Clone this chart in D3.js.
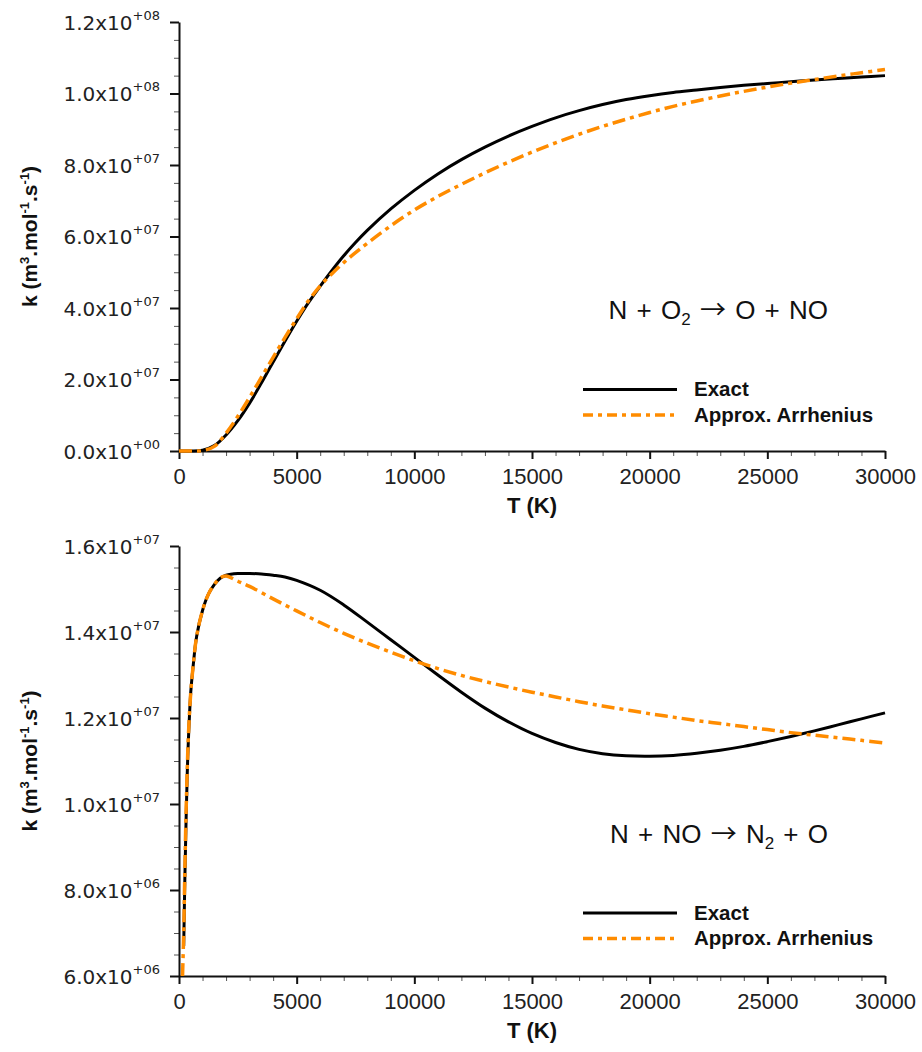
<!DOCTYPE html>
<html>
<head>
<meta charset="utf-8">
<script src="https://cdn.jsdelivr.net/npm/d3@7"></script>
<style>
  html, body { margin: 0; padding: 0; background: #fff; }
  svg { display: block; }
</style>
</head>
<body>
<svg id="chart" width="922" height="1052"></svg>
<script>
// ---------------- DATA ----------------
// Panel 1: N + O2 -> O + NO
const T_top = [0,500,1000,1500,2000,2500,3000,3500,4000,4500,5000,5500,6000,6500,7000,7500,8000,9000,10000,11000,12000,13000,14000,15000,16000,17000,18000,19000,20000,21000,22000,23000,24000,25000,26000,27000,28000,29000,30000];
const k_top_exact = [0,0,0.02e7,0.15e7,0.45e7,0.85e7,1.34e7,1.9e7,2.49e7,3.07e7,3.63e7,4.15e7,4.61e7,5.05e7,5.46e7,5.83e7,6.17e7,6.77e7,7.29e7,7.75e7,8.15e7,8.5e7,8.81e7,9.08e7,9.32e7,9.52e7,9.69e7,9.83e7,9.94e7,10.03e7,10.1e7,10.17e7,10.23e7,10.28e7,10.33e7,10.38e7,10.42e7,10.46e7,10.5e7];
const k_top_arrh  = [0,0,0.01e7,0.13e7,0.5e7,0.97e7,1.5e7,2.06e7,2.62e7,3.17e7,3.7e7,4.2e7,4.62e7,4.96e7,5.27e7,5.55e7,5.81e7,6.3e7,6.74e7,7.12e7,7.46e7,7.78e7,8.08e7,8.36e7,8.62e7,8.86e7,9.08e7,9.28e7,9.47e7,9.64e7,9.79e7,9.93e7,10.06e7,10.18e7,10.29e7,10.39e7,10.49e7,10.58e7,10.67e7];

// Panel 2: N + NO -> N2 + O
const T_bot_exact = [200,250,300,350,400,500,600,750,1000,1250,1500,1750,2000,2500,3000,3500,4000,4500,5000,6000,7000,8000,9000,10000,11000,12000,13000,14000,15000,16000,17000,18000,19000,20000,21000,22000,23000,24000,25000,26000,27000,28000,29000,30000];
const k_bot_exact = [6.7e6,8.3e6,9.6e6,10.7e6,11.5e6,12.6e6,13.2e6,13.9e6,14.5e6,14.88e6,15.1e6,15.25e6,15.32e6,15.36e6,15.36e6,15.35e6,15.32e6,15.28e6,15.2e6,14.97e6,14.63e6,14.23e6,13.82e6,13.41e6,13.0e6,12.6e6,12.23e6,11.91e6,11.64e6,11.43e6,11.27e6,11.17e6,11.12e6,11.11e6,11.13e6,11.18e6,11.25e6,11.34e6,11.45e6,11.57e6,11.7e6,11.84e6,11.98e6,12.12e6];
const T_bot_arrh = [150,200,250,300,350,400,500,600,750,1000,1250,1500,1750,2000,2500,3000,4000,5000,6000,7000,8000,9000,10000,11000,12000,13000,14000,15000,16000,17000,18000,19000,20000,21000,22000,23000,24000,25000,26000,27000,28000,29000,30000];
const k_bot_arrh = [6.0e6,7.0e6,8.5e6,9.8e6,10.8e6,11.6e6,12.6e6,13.2e6,13.9e6,14.5e6,14.88e6,15.1e6,15.26e6,15.3e6,15.18e6,15.06e6,14.77e6,14.49e6,14.22e6,13.97e6,13.74e6,13.53e6,13.33e6,13.15e6,12.99e6,12.85e6,12.72e6,12.6e6,12.49e6,12.38e6,12.28e6,12.19e6,12.1e6,12.02e6,11.94e6,11.87e6,11.8e6,11.73e6,11.66e6,11.6e6,11.54e6,11.48e6,11.42e6];

const xTicks = [0,5000,10000,15000,20000,25000,30000];
const yTicksTop = [0,2e7,4e7,6e7,8e7,10e7,12e7];
const yTicksBot = [6e6,8e6,10e6,12e6,14e6,16e6];
const legendLabels = ["Exact", "Approx. Arrhenius"];
const xTitle = "T (K)";

// ---------------- DRAW ----------------
const svg = d3.select("#chart");
const ORANGE = "#FF8C00";
const SANS = "'Liberation Sans', Arial, Helvetica, sans-serif";
const ARROW_FONT = "'Noto Sans CJK SC', 'DejaVu Sans', sans-serif";

function supLabel(v) {
  if (v === 0) return ["0.0x10", "+00"];
  const e = Math.floor(Math.log10(v) + 1e-9);
  const m = v / Math.pow(10, e);
  return [m.toFixed(1) + "x10", "+" + String(e).padStart(2, "0")];
}

function panel(cfg) {
  const x = d3.scaleLinear().domain([0, 30000]).range([179, 885]);
  const y = d3.scaleLinear().domain(cfg.yDomain).range([cfg.yBottom, cfg.yTop]);
  const g = svg.append("g");

  // minor ticks x
  const minorX = d3.range(0, 30001, 1000).filter(v => v % 5000 !== 0);
  g.append("g").attr("transform", `translate(0,${cfg.yBottom})`)
    .call(d3.axisBottom(x).tickValues(minorX).tickSize(5).tickFormat(""))
    .call(s => s.select(".domain").remove())
    .call(s => s.selectAll("line").attr("stroke", "#555").attr("stroke-width", 1));
  // minor ticks y
  const step = cfg.yStep / 4;
  const minorY = d3.range(cfg.yDomain[0], cfg.yDomain[1] + step / 2, step)
    .filter((v, i) => i % 4 !== 0);
  g.append("g").attr("transform", "translate(179,0)")
    .call(d3.axisLeft(y).tickValues(minorY).tickSize(5).tickFormat(""))
    .call(s => s.select(".domain").remove())
    .call(s => s.selectAll("line").attr("stroke", "#555").attr("stroke-width", 1));

  // major x axis
  const gx = g.append("g").attr("transform", `translate(0,${cfg.yBottom})`)
    .call(d3.axisBottom(x).tickValues(xTicks).tickSize(8).tickSizeOuter(0).tickPadding(9).tickFormat(d3.format("d")));
  gx.select(".domain").attr("stroke", "#111").attr("stroke-width", 2);
  gx.selectAll("line").attr("stroke", "#111").attr("stroke-width", 2);
  gx.selectAll("text").attr("font-family", SANS).attr("font-size", 22).attr("fill", "#222");

  // major y axis
  const gy = g.append("g").attr("transform", "translate(179,0)")
    .call(d3.axisLeft(y).tickValues(cfg.yTicks).tickSize(9).tickSizeOuter(0).tickPadding(10).tickFormat(""));
  gy.select(".domain").attr("stroke", "#111").attr("stroke-width", 2);
  gy.selectAll("line").attr("stroke", "#111").attr("stroke-width", 2);
  gy.selectAll(".tick text").each(function(d) {
    const t = d3.select(this);
    const [a, b] = supLabel(d);
    t.attr("font-family", "'DejaVu Sans', sans-serif").attr("fill", "#222").attr("dy", null)
      .attr("y", 7).attr("text-anchor", "end");
    t.append("tspan").attr("font-size", 20).text(a);
    t.append("tspan").attr("font-size", 13).attr("dy", -10).text(b);
  });

  // x title
  g.append("text").attr("x", 532).attr("y", cfg.yBottom + 62)
    .attr("text-anchor", "middle").attr("font-family", SANS)
    .attr("font-weight", "bold").attr("font-size", 22).attr("fill", "#111").text(xTitle);

  // y title
  const yt = g.append("text")
    .attr("transform", `translate(37,${(cfg.yTop + cfg.yBottom) / 2}) rotate(-90)`)
    .attr("text-anchor", "middle").attr("font-family", SANS)
    .attr("font-weight", "bold").attr("font-size", 21).attr("fill", "#111");
  yt.append("tspan").text("k (m");
  yt.append("tspan").attr("font-size", 13).attr("dy", -8).text("3");
  yt.append("tspan").attr("dy", 8).text(".mol");
  yt.append("tspan").attr("font-size", 13).attr("dy", -8).text("-1");
  yt.append("tspan").attr("dy", 8).text(".s");
  yt.append("tspan").attr("font-size", 13).attr("dy", -8).text("-1");
  yt.append("tspan").attr("dy", 8).text(")");

  // curves
  const line = d3.line().x(d => x(d[0])).y(d => y(d[1])).curve(d3.curveCatmullRom.alpha(0.5));
  g.append("path").datum(d3.zip(cfg.Te, cfg.ke)).attr("d", line)
    .attr("fill", "none").attr("stroke", "#000").attr("stroke-width", 3);
  g.append("path").datum(d3.zip(cfg.Ta, cfg.ka)).attr("d", line)
    .attr("fill", "none").attr("stroke", ORANGE).attr("stroke-width", 3.5)
    .attr("stroke-dasharray", "13,5,4,5");

  // reaction label
  const rt = g.append("text").attr("x", 828).attr("y", cfg.rxY).attr("text-anchor", "end")
    .attr("font-family", SANS).attr("font-size", 26).attr("fill", "#111")
    .attr("word-spacing", 2).attr("xml:space", "preserve");
  cfg.reaction.forEach(p => {
    const ts = rt.append("tspan").text(p[0]);
    if (p[1] === "sub") ts.attr("font-size", 17).attr("dy", 6);
    if (p[1] === "after") ts.attr("dy", -6);
    if (p[1] === "arrow") ts.attr("font-family", ARROW_FONT).attr("font-size", 26);
    if (p[1] === "arrow-after") ts.attr("font-family", ARROW_FONT).attr("font-size", 26).attr("dy", -6);
  });

  // legend
  const lg = g.append("g");
  lg.append("line").attr("x1", 583).attr("x2", 677).attr("y1", cfg.legY).attr("y2", cfg.legY)
    .attr("stroke", "#000").attr("stroke-width", 3);
  lg.append("line").attr("x1", 583).attr("x2", 677).attr("y1", cfg.legY + 25.5).attr("y2", cfg.legY + 25.5)
    .attr("stroke", ORANGE).attr("stroke-width", 3.5).attr("stroke-dasharray", "10,5,4,5");
  legendLabels.forEach((l, i) => {
    lg.append("text").attr("x", 694).attr("y", cfg.legY + 6.5 + i * 25.5)
      .attr("font-family", SANS).attr("font-weight", "bold")
      .attr("font-size", 20.5).attr("fill", "#111").text(l);
  });
}

panel({
  yDomain: [0, 1.2e8], yStep: 2e7, yTicks: yTicksTop, yTop: 22, yBottom: 451,
  Te: T_top, ke: k_top_exact, Ta: T_top, ka: k_top_arrh,
  rxY: 319,
  reaction: [["N + O"], ["2", "sub"], [" ", "after"], ["\u2192", "arrow"], [" O + NO"]],
  legY: 389.5
});
panel({
  yDomain: [6e6, 1.6e7], yStep: 2e6, yTicks: yTicksBot, yTop: 546, yBottom: 976,
  Te: T_bot_exact, ke: k_bot_exact, Ta: T_bot_arrh, ka: k_bot_arrh,
  rxY: 843,
  reaction: [["N + NO "], ["\u2192", "arrow"], [" N"], ["2", "sub"], [" + O", "after"]],
  legY: 913
});
</script>
</body>
</html>
